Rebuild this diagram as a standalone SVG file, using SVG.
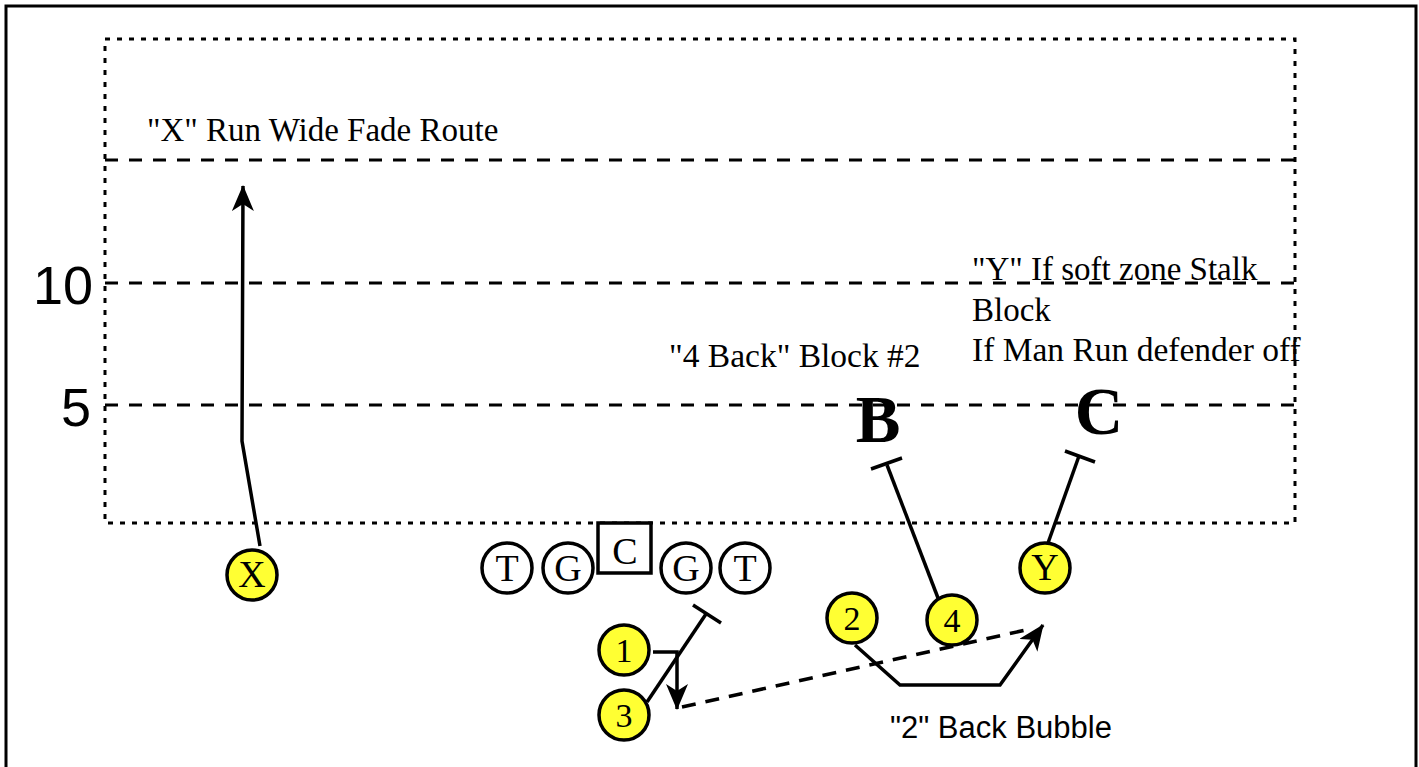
<svg xmlns="http://www.w3.org/2000/svg" width="1419" height="767" viewBox="0 0 1419 767">
<style>
.ln{fill:none;stroke:#000;stroke-width:3.5}
.yard{fill:none;stroke:#000;stroke-width:3;stroke-dasharray:13 11}
.dot{fill:none;stroke:#000;stroke-width:3;stroke-dasharray:5 7}
.off{fill:#fff;stroke:#000;stroke-width:3.5}
.pl{fill:#ffff33;stroke:#000;stroke-width:3.5}
.ser{font-family:"Liberation Serif","Times New Roman",serif;fill:#000}
.sans{font-family:"Liberation Sans",Arial,sans-serif;fill:#000}
.lbl{font-family:"Liberation Serif","Times New Roman",serif;font-size:38px;text-anchor:middle;fill:#000}
.num{font-family:"Liberation Serif","Times New Roman",serif;font-size:34px;text-anchor:middle;fill:#000}
.def{font-family:"Liberation Serif","Times New Roman",serif;font-size:67px;font-weight:bold;text-anchor:middle;fill:#000}
</style>
<defs>
<marker id="ah" markerUnits="userSpaceOnUse" markerWidth="30" markerHeight="24" refX="25" refY="11" orient="auto" viewBox="0 0 30 24">
<path d="M0,0 L26,11 L0,22 L7,11 Z" fill="#000"/>
</marker>
</defs>
<rect width="1419" height="767" fill="#fff"/>
<g id="field">
<path d="M6,780 V6 H1416 V780" fill="none" stroke="#000" stroke-width="3"/>
<rect x="105" y="39" width="1190" height="484" class="dot"/>
<line x1="105" y1="160" x2="1298" y2="160" class="yard"/>
<line x1="105" y1="283" x2="1298" y2="283" class="yard"/>
<line x1="105" y1="405" x2="1298" y2="405" class="yard"/>
<text x="93" y="304" class="sans" font-size="54" text-anchor="end">10</text>
<text x="91" y="426" class="sans" font-size="54" text-anchor="end">5</text>
</g>
<g id="labels">
<text x="147" y="141" class="ser" font-size="33">"X" Run Wide Fade Route</text>
<text x="669" y="367" class="ser" font-size="33.5">"4 Back" Block #2</text>
<text x="972" y="280" class="ser" font-size="33">"Y" If soft zone Stalk</text>
<text x="972" y="321" class="ser" font-size="33">Block</text>
<text x="972" y="361" class="ser" font-size="33.5">If Man Run defender off</text>
<text x="890" y="738" class="sans" font-size="31">"2" Back Bubble</text>
</g>
<g id="connectors">
<polyline points="260,546 242,441 243,186" class="ln" marker-end="url(#ah)"/>
<line x1="938" y1="598" x2="887" y2="465" class="ln"/>
<line x1="871" y1="469" x2="902" y2="458" class="ln"/>
<line x1="1048" y1="543" x2="1079" y2="456" class="ln"/>
<line x1="1065" y1="451" x2="1095" y2="462" class="ln"/>
<line x1="647" y1="702" x2="706" y2="614" class="ln"/>
<line x1="693" y1="605" x2="721" y2="623" class="ln"/>
<polyline points="653,652 677,652 677,709" class="ln" marker-end="url(#ah)"/>
<line x1="682" y1="707" x2="1030" y2="629" class="ln" stroke-dasharray="14 10"/>
<polyline points="855,645 900,685 1000,685 1043,625" class="ln" marker-end="url(#ah)"/>
</g>
<g id="node-X"><circle cx="252" cy="575" r="25" class="pl"/><text x="252" y="587" class="lbl" font-size="34">X</text></g>
<g id="node-LT"><circle cx="507" cy="568" r="25" class="off"/><text x="507" y="581" class="lbl">T</text></g>
<g id="node-LG"><circle cx="568" cy="568" r="25" class="off"/><text x="568" y="581" class="lbl">G</text></g>
<g id="node-C"><rect x="598" y="523" width="53" height="50" class="off"/><text x="625" y="564" class="lbl">C</text></g>
<g id="node-RG"><circle cx="686" cy="568" r="25" class="off"/><text x="686" y="581" class="lbl">G</text></g>
<g id="node-RT"><circle cx="745" cy="568" r="25" class="off"/><text x="745" y="581" class="lbl">T</text></g>
<g id="node-1"><circle cx="624" cy="650" r="25" class="pl"/><text x="624" y="662" class="num">1</text></g>
<g id="node-3"><circle cx="624" cy="715" r="25" class="pl"/><text x="624" y="727" class="num">3</text></g>
<g id="node-2"><circle cx="852" cy="618" r="25" class="pl"/><text x="852" y="630" class="num">2</text></g>
<g id="node-4"><circle cx="952" cy="620" r="25" class="pl"/><text x="952" y="632" class="num">4</text></g>
<g id="node-Y"><circle cx="1045" cy="568" r="25" class="pl"/><text x="1045" y="580" class="lbl" font-size="34">Y</text></g>
<g id="def-B"><text x="878" y="442" class="def">B</text></g>
<g id="def-C"><text x="1099" y="434" class="def">C</text></g>
</svg>
